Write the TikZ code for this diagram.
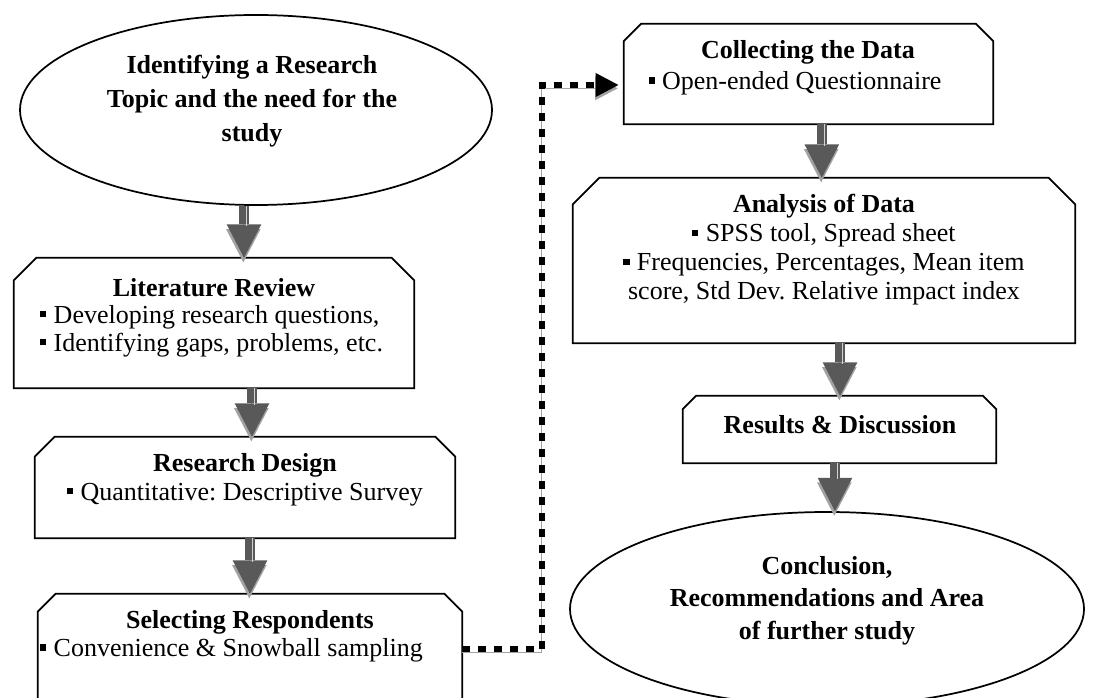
\documentclass[tikz,border=0pt]{standalone}
\usepackage{fontspec}
\setmainfont{Liberation Serif}
\usepackage{tikz}
\usetikzlibrary{shapes.geometric}
\usetikzlibrary{arrows.meta}
\usetikzlibrary{positioning}
\frenchspacing

\definecolor{arrowgray}{HTML}{595959}
\definecolor{shadegray}{HTML}{A3A3A3}

% small square bullet
\newcommand{\sqb}{\rule[0.22em]{4.6pt}{4.6pt}\hspace{5.5pt}}

% box with both top corners cut off
\newcommand{\snipbox}[2]{%
  \draw[boxline] ([yshift=-#2]#1.north west) -- ([xshift=#2]#1.north west)
    -- ([xshift=-#2]#1.north east) -- ([yshift=-#2]#1.north east)
    -- (#1.south east) -- (#1.south west) -- cycle;
}

\tikzset{
  boxline/.style={draw=black, line width=1.3pt, line join=miter},
  frame/.style={rectangle, inner sep=0pt},
  oval/.style={ellipse, draw=black, line width=1.3pt, inner sep=0pt},
  txt/.style={font=\fontsize{19.5}{#1}\selectfont, inner sep=0pt},
  btxt/.style={font=\fontsize{19.5}{#1}\selectfont\bfseries, inner sep=0pt},
  head/.style={font=\fontsize{19.5}{22}\selectfont\bfseries, inner sep=0pt},
  flow/.style={draw=arrowgray, line width=8pt,
    -{Triangle[width=26pt,length=25pt,line width=0pt]},
    preaction={draw=shadegray, -{Triangle[width=26pt,length=25pt,line width=0pt]},
      transform canvas={shift={(-0.5pt,-3.5pt)}}},
    postaction={draw=shadegray!50, line width=1pt, arrows=-, shorten >=24pt,
      transform canvas={xshift=1.8pt}}},
  dotlink/.style={draw=black, line width=5pt, dash pattern=on 5.5pt off 6.5pt,
    shorten >=4pt, -{Triangle[width=18pt,length=17pt,line width=0pt]},
    preaction={draw=shadegray, -{Triangle[width=18pt,length=17pt,line width=0pt]},
      transform canvas={shift={(-0.5pt,-2.5pt)}}}}
}

\begin{document}
\begin{tikzpicture}[x=0.75pt, y=-0.75pt]
  \clip (0,0) rectangle (1094,698);

  % Columna izquierda
  \node[oval, minimum width=354pt, minimum height=142.5pt] (topic) at (256,110) {};
  \node[frame, minimum width=300pt, minimum height=97.5pt] (lit) at (214,323) {};
  \node[frame, minimum width=315pt, minimum height=75.75pt] (design) at (245,487.5) {};
  \node[frame, minimum width=318pt, minimum height=82.5pt] (select) at (250,649) {};

  % Columna derecha
  \node[frame, minimum width=276.75pt, minimum height=75pt] (collect) at (808.5,74) {};
  \node[frame, minimum width=376.5pt, minimum height=123.75pt] (analysis) at (824,260.5) {};
  \node[frame, minimum width=234.75pt, minimum height=50.25pt] (results) at (839.5,429.5) {};
  \node[oval, minimum width=385.5pt, minimum height=145.5pt] (concl) at (827,609) {};

  \snipbox{lit}{17pt}
  \snipbox{design}{15pt}
  \snipbox{select}{13.5pt}
  \snipbox{collect}{13pt}
  \snipbox{analysis}{20pt}
  \snipbox{results}{10pt}

  % Textos
  \node[btxt=25.5pt, align=center] (topic-txt) at (252,101)
    {Identifying a Research\\Topic and the need for the\\study};
  \node[head] (lit-head) at (214,288) {Literature Review};
  \node[txt=21pt, align=left, anchor=west] (lit-body) at (40,331)
    {\sqb Developing research questions,\\\sqb Identifying gaps, problems, etc.};
  \node[txt=21.75pt, align=center] (design-txt) at (245,479.5)
    {\textbf{Research Design}\\\sqb Quantitative: Descriptive Survey};
  \node[head] (select-head) at (250,622) {Selecting Respondents};
  \node[txt=21pt, anchor=west] (select-body) at (40,650) {\sqb Convenience \& Snowball sampling};
  \node[head] (collect-head) at (808,52) {Collecting the Data};
  \node[txt=21pt] (collect-body) at (795,83) {\sqb Open-ended Questionnaire};
  \node[txt=21.75pt, align=center] (analysis-txt) at (824,249.5)
    {\textbf{Analysis of Data}\\\sqb SPSS tool, Spread sheet\\
     \sqb Frequencies, Percentages, Mean item\\score, Std Dev. Relative impact index};
  \node[head] (results-txt) at (840,425) {Results \& Discussion};
  \node[btxt=24.4pt, align=center] (concl-txt) at (827,600.5)
    {Conclusion,\\Recommendations and Area\\of further study};

  % Flechas
  \draw[flow] ([xshift=-9pt]topic.south) -- ([xshift=-9pt]topic.south |- lit.north);
  \draw[flow] ([xshift=28.5pt]lit.south) -- ([xshift=28.5pt]lit.south |- design.north);
  \draw[flow] ([xshift=3.75pt]design.south) -- ([xshift=3.75pt]design.south |- select.north);
  \draw[flow] ([xshift=10pt]collect.south) -- ([xshift=10pt]collect.south |- analysis.north);
  \draw[flow] ([xshift=12pt]analysis.south) -- ([xshift=12pt]analysis.south |- results.north);
  \draw[flow] ([xshift=-3.4pt]results.south) -- ([xshift=-3.4pt]results.south |- concl.north);

  % Enlace punteado
  \coordinate (bend) at (542,85);
  \draw[dotlink] (select.east) -| (bend) -- (bend -| collect.west);
\end{tikzpicture}
\end{document}
